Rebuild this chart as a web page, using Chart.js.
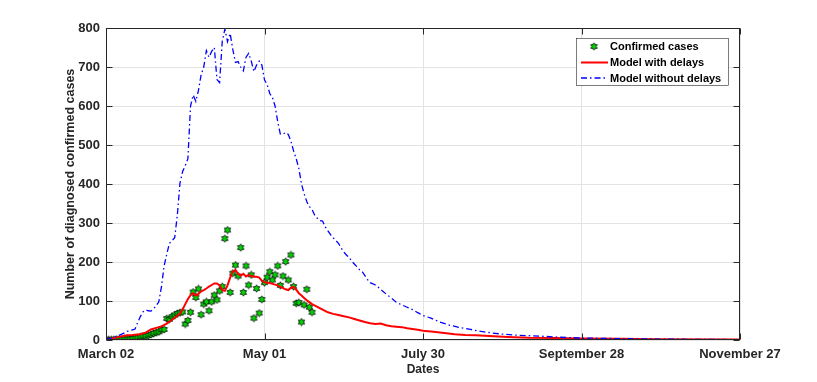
<!DOCTYPE html>
<html>
<head>
<meta charset="utf-8">
<script src="https://cdn.jsdelivr.net/npm/chart.js@4.4.1/dist/chart.umd.min.js"></script>
<style>
html, body { margin: 0; padding: 0; background: #fff; }
</style>
</head>
<body>
<canvas id="myChart" width="817" height="382"></canvas>
<script>
// x axis: days counted from March 02, ticks every 60 days
var tickLabels = ['March 02', 'May 01', 'July 30', 'September 28', 'November 27'];

// daily confirmed cases, day 0 = March 02
var confirmedCases = [
    1, 1, 1, 1, 2, 2, 2, 3, 3, 3, 4, 5, 6,
    8, 10, 10, 12, 14, 17, 19, 21, 26, 27,
    55, 53, 60, 64, 68, 70, 72,
    41, 50, 71, 123, 109, 131, 65, 92, 98, 75,
    98, 115, 103, 126, 137, 260, 282, 122, 171, 192,
    164, 237, 122, 190, 141, 167, 56, 132, 69, 104,
    147, 161, 175, 154, 167, 190, 140, 164, 201, 154,
    218, 137, 94, 96, 46, 90, 130, 84, 71
];

// model with delays
var delayDays = [0, 3, 5, 8, 10, 13, 15, 17, 19, 21, 23, 25, 27, 28, 29, 30, 31, 32, 33, 34,
    35, 36, 37, 38, 39, 40, 41, 42, 43, 44, 45, 46, 47, 48, 49, 50, 51, 52, 53, 54,
    55, 56, 57, 58, 59, 60, 61, 62, 63, 64, 65, 66, 67, 68, 69, 70, 71, 72, 73, 74,
    75, 76, 77, 78, 80, 82, 84, 86, 88, 90, 92, 94, 96, 98, 100, 102, 104, 106, 108, 110,
    112, 114, 116, 118, 120, 124, 128, 132, 136, 140, 145, 152, 160, 170, 180, 195, 210, 240];
var delayCases = [2, 5, 8, 12, 13, 15, 19, 27, 31, 35, 42, 52, 62, 68, 78, 92, 105, 115, 120, 114,
    118, 125, 128, 132, 137, 141, 145, 145, 140, 128, 126, 140, 160, 175, 180, 170, 165, 170, 163, 167,
    164, 162, 162, 160, 152, 148, 147, 146, 144, 142, 140, 136, 133, 130, 128, 134, 136, 129, 120, 114,
    108, 102, 97, 92, 85, 78, 71, 67, 64, 61, 58, 54, 50, 46, 43, 41, 42, 38, 35, 34,
    33, 30, 28, 26, 24, 21, 18, 15, 13, 12, 10, 8, 6, 5, 4, 3, 2, 1];

// model without delays
var noDelayDays = [0, 2, 4, 6, 8, 10, 11, 12, 13, 14, 15, 16, 17, 18, 19, 20, 21, 22, 23, 24,
    25, 26, 27, 28, 29, 30, 31, 32, 33, 34, 35, 36, 37, 38, 39, 40, 41, 42, 43, 44,
    45, 46, 47, 48, 49, 50, 51, 52, 53, 54, 55, 56, 57, 58, 59, 60, 61, 62, 63, 64,
    65, 66, 67, 68, 69, 70, 71, 72, 73, 74, 75, 76, 77, 78, 79, 80, 81, 82, 83, 84,
    85, 86, 87, 88, 89, 90, 91, 92, 93, 94, 95, 96, 97, 98, 99, 100, 102, 104, 106, 108,
    110, 112, 114, 116, 118, 120, 123, 126, 130, 134, 138, 142, 146, 150, 156, 164, 172, 180, 190, 200,
    215, 240];
var noDelayCases = [2, 5, 9, 15, 22, 26, 28, 45, 60, 72, 77, 75, 74, 80, 88, 98, 137, 190, 220, 248,
    255, 262, 320, 402, 432, 447, 465, 600, 628, 612, 640, 680, 700, 742, 725, 740, 750, 668, 660, 765,
    797, 765, 786, 745, 712, 714, 700, 690, 725, 735, 715, 688, 705, 715, 705, 667, 655, 632, 622, 600,
    560, 528, 528, 532, 527, 510, 485, 465, 440, 400, 375, 355, 342, 335, 320, 312, 306, 305, 290, 280,
    270, 262, 255, 248, 236, 226, 218, 212, 202, 195, 188, 180, 175, 165, 155, 147, 141, 130, 118, 108,
    96, 90, 84, 78, 70, 63, 56, 47, 38, 32, 27, 22, 18, 15, 12, 10, 7, 5, 4, 3,
    2, 1];

function toPoints(xs, ys) {
    return xs.map(function (x, i) { return { x: x, y: ys[i] }; });
}

// green hexagram with black edge, like the matlab marker
function makeStar() {
    var c = document.createElement('canvas');
    c.width = 9; c.height = 9;
    var g = c.getContext('2d');
    g.beginPath();
    for (var i = 0; i < 12; i++) {
        var r = i % 2 ? 2.2 : 3.7;
        var a = -Math.PI / 2 + i * Math.PI / 6;
        var px = 4.5 + r * Math.cos(a), py = 4.5 + r * Math.sin(a);
        if (i === 0) g.moveTo(px, py); else g.lineTo(px, py);
    }
    g.closePath();
    g.fillStyle = '#00d400';
    g.fill();
    g.strokeStyle = '#000';
    g.lineWidth = 0.8;
    g.stroke();
    return c;
}
var star = makeStar();

var axisColor = '#262626';
var gridColor = '#e3e3e3';

// box round the plot, inward ticks and the legend inside the axes
var boxPlugin = {
    id: 'box',
    afterDraw: function (chart) {
        var ctx = chart.ctx, a = chart.chartArea;
        var xs = chart.scales.x, ys = chart.scales.y;
        ctx.save();
        ctx.strokeStyle = axisColor;
        ctx.lineWidth = 1;
        var L = Math.round(a.left) + 0.5, R = Math.round(a.right) - 0.5;
        var T = Math.round(a.top) + 0.5, B = Math.round(a.bottom) - 0.5;
        ctx.strokeRect(L, T, R - L, B - T);
        ctx.beginPath();
        xs.ticks.forEach(function (t) {
            var px = Math.round(xs.getPixelForValue(t.value)) + 0.5;
            ctx.moveTo(px, B); ctx.lineTo(px, B - 6);
            ctx.moveTo(px, T); ctx.lineTo(px, T + 6);
        });
        ys.ticks.forEach(function (t) {
            var py = Math.round(ys.getPixelForValue(t.value)) + 0.5;
            ctx.moveTo(L, py); ctx.lineTo(L + 6, py);
            ctx.moveTo(R, py); ctx.lineTo(R - 6, py);
        });
        ctx.stroke();

        // legend
        var lx = 576, ly = 38, lw = 152, lh = 47;
        ctx.fillStyle = '#fff';
        ctx.fillRect(lx, ly, lw, lh);
        ctx.strokeStyle = axisColor;
        ctx.lineWidth = 0.6;
        ctx.strokeRect(lx + 0.5, ly + 0.5, lw, lh);
        ctx.font = 'bold 11px "Liberation Sans", Arial, sans-serif';
        ctx.textBaseline = 'middle';
        ctx.fillStyle = '#000';
        var ds = chart.data.datasets;
        var rows = [46.5, 62.5, 78];
        ds.forEach(function (d, i) {
            var y = rows[i];
            if (i === 0) {
                ctx.drawImage(star, 594 - 4.5, y - 4.5);
            } else {
                ctx.save();
                ctx.strokeStyle = d.borderColor;
                ctx.lineWidth = d.borderWidth;
                ctx.setLineDash(d.borderDash || []);
                ctx.beginPath();
                ctx.moveTo(581, y); ctx.lineTo(608, y);
                ctx.stroke();
                ctx.restore();
            }
            ctx.fillText(d.label, 610, y + 0.5);
        });
        ctx.restore();
    }
};

var ctx = document.getElementById('myChart').getContext('2d');

var myChart = new Chart(ctx, {
    type: 'line',
    data: {
        datasets: [{
            label: 'Confirmed cases',
            data: confirmedCases.map(function (v, i) { return { x: i, y: v }; }),
            showLine: false,
            pointStyle: star,
            pointRadius: 4,
            order: 3
        }, {
            label: 'Model with delays',
            data: toPoints(delayDays, delayCases),
            borderColor: '#ff0000',
            borderWidth: 2,
            pointRadius: 0,
            tension: 0,
            order: 2
        }, {
            label: 'Model without delays',
            data: toPoints(noDelayDays, noDelayCases),
            borderColor: '#0000ff',
            borderWidth: 1.3,
            borderDash: [6, 3, 1.5, 3],
            pointRadius: 0,
            tension: 0,
            order: 1
        }]
    },
    options: {
        responsive: false,
        animation: false,
        layout: {
            padding: { left: 0, right: 77, top: 28, bottom: 0 }
        },
        scales: {
            x: {
                type: 'linear',
                min: 0,
                max: 240,
                afterFit: function (s) { s.height = 42; },
                ticks: {
                    stepSize: 60,
                    maxRotation: 0,
                    padding: 7,
                    color: axisColor,
                    font: { family: '"Liberation Sans", Arial, sans-serif', size: 13, weight: 'bold' },
                    callback: function (v) { return tickLabels[v / 60]; }
                },
                grid: { color: gridColor, drawTicks: false, tickLength: 0 },
                border: { display: false },
                title: {
                    display: true,
                    text: 'Dates',
                    color: axisColor,
                    font: { family: '"Liberation Sans", Arial, sans-serif', size: 12, weight: 'bold' },
                    padding: { top: 0, bottom: 5 }
                }
            },
            y: {
                min: 0,
                max: 800,
                afterFit: function (s) { s.width = 106; },
                ticks: {
                    stepSize: 100,
                    padding: 6,
                    color: axisColor,
                    font: { family: '"Liberation Sans", Arial, sans-serif', size: 13, weight: 'bold' }
                },
                grid: { color: gridColor, drawTicks: false, tickLength: 0 },
                border: { display: false },
                title: {
                    display: true,
                    text: 'Number of diagnosed confirmed cases',
                    color: axisColor,
                    font: { family: '"Liberation Sans", Arial, sans-serif', size: 12.5, weight: 'bold' },
                    padding: { top: 63, bottom: 0 }
                }
            }
        },
        plugins: {
            legend: { display: false },
            tooltip: { enabled: false }
        }
    },
    plugins: [boxPlugin]
});
</script>
</body>
</html>
